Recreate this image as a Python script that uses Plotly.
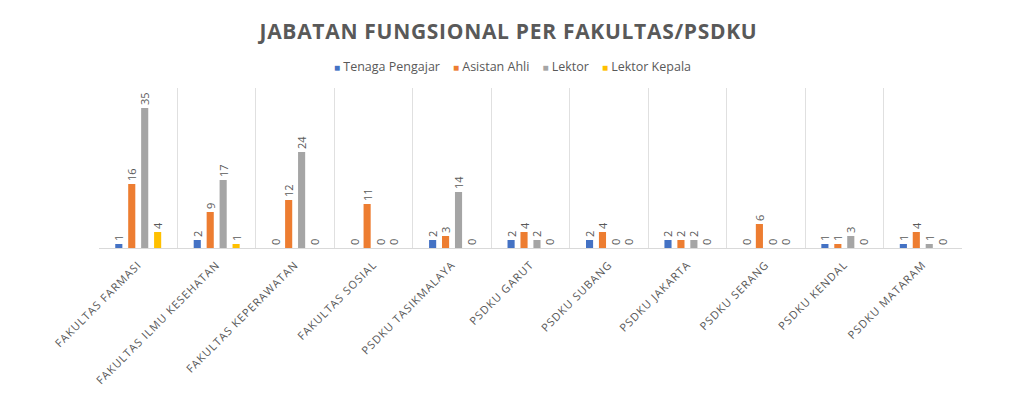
import plotly.graph_objects as go

categories = ["FAKULTAS FARMASI", "FAKULTAS ILMU KESEHATAN", "FAKULTAS KEPERAWATAN",
              "FAKULTAS SOSIAL", "PSDKU TASIKMALAYA", "PSDKU GARUT", "PSDKU SUBANG",
              "PSDKU JAKARTA", "PSDKU SERANG", "PSDKU KENDAL", "PSDKU MATARAM"]
tenaga_pengajar = [1, 2, 0, 0, 2, 2, 2, 2, 0, 1, 1]
asisten_ahli = [16, 9, 12, 11, 3, 4, 4, 2, 6, 1, 4]
lektor = [35, 17, 24, 0, 14, 2, 0, 2, 0, 3, 1]
lektor_kepala = [4, 1, 0, 0, 0, 0, 0, 0, 0, 0, 0]

series_names = ["Tenaga Pengajar", "Asistan Ahli", "Lektor", "Lektor Kepala"]
series_values = [tenaga_pengajar, asisten_ahli, lektor, lektor_kepala]
series_colors = ["#4472C4", "#ED7D31", "#A5A5A5", "#FFC000"]

FONT = "Open Sans"
GREY = "#595959"

fig = go.Figure()
for name, vals, col in zip(series_names, series_values, series_colors):
    fig.add_trace(go.Bar(
        x=categories, y=vals, name=name, marker_color=col, marker_line_width=0,
        text=[str(v) for v in vals], textposition="outside", textangle=-90,
        constraintext="none",
        textfont=dict(family=FONT, size=11, color=GREY), cliponaxis=False,
        showlegend=False,
    ))

# legend drawn as a single centred line of text
legend_parts = []
for name, col in zip(series_names, series_colors):
    legend_parts.append(
        f"<span style='color:{col};font-size:10px'>■</span> {name}")
legend_text = "&nbsp;&nbsp;&nbsp;&nbsp;".join(legend_parts)

fig.add_annotation(text=legend_text, x=0.4786, xref="paper", y=1.1375, yref="paper",
                   xanchor="center", yanchor="middle", showarrow=False,
                   font=dict(family=FONT, size=12.5, color=GREY))

# page body adds an 8px offset, so the figure is 8px smaller
fig.update_layout(
    width=1016, height=388,
    paper_bgcolor="white", plot_bgcolor="white",
    barmode="group", bargap=0.34, bargroupgap=0.45,
    margin=dict(l=91, r=62, t=80, b=148, autoexpand=False),
    title=dict(text="<b><span style='letter-spacing:0.7px'>JABATAN FUNGSIONAL PER FAKULTAS/PSDKU</span></b>",
               x=0.4926, xanchor="center", y=0.938, yanchor="middle", yref="container",
               font=dict(family=FONT, size=21, color=GREY)),
    uniformtext=dict(minsize=11, mode="show"),
)
fig.update_xaxes(
    type="category", tickangle=-45, tickson="boundaries", showgrid=True,
    gridcolor="#E0E0E0", gridwidth=1, ticks="", showline=True, linecolor="#D9D9D9",
    tickmode="array", tickvals=categories,
    ticktext=[f"<span style='letter-spacing:1px'>{c}</span>" for c in categories],
    tickfont=dict(family=FONT, size=11, color=GREY), automargin=False,
    ticklabelstandoff=5,
)
fig.update_yaxes(range=[0, 40], visible=False, showgrid=False, zeroline=False)

fig.write_html("out.html")
